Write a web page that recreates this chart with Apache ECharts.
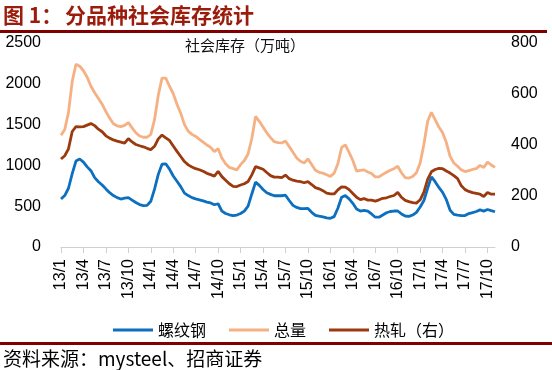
<!DOCTYPE html>
<html>
<head>
<meta charset="utf-8">
<script src="https://cdn.jsdelivr.net/npm/echarts/dist/echarts.min.js"></script>
<style>
html,body{margin:0;padding:0;background:#fff;}
#chart{width:552px;height:370px;}
</style>
</head>
<body>
<div id="chart"></div>
<script>
// Half-month points from 2013/1 to 2017/11; labels shown at quarter starts
const tickLabels = ['13/1','13/4','13/7','13/10','14/1','14/4','14/7','14/10','15/1','15/4','15/7','15/10','16/1','16/4','16/7','16/10','17/1','17/4','17/7','17/10'];
const rebar = [588,630,720,900,1053,1078,1040,982,935,850,800,760,712,665,630,605,588,598,605,575,
  545,520,508,510,560,710,890,1015,1020,955,870,805,740,660,630,605,590,578,565,550,
  540,518,530,440,410,395,384,392,410,440,500,650,795,755,705,665,645,628,628,628,
  635,570,510,485,470,470,472,425,388,378,370,358,352,372,475,610,630,590,535,465,
  441,450,440,405,365,365,392,420,435,441,441,405,380,375,392,425,490,570,720,860,
  800,730,670,580,450,400,390,384,385,410,422,435,455,440,460,445,432];
const total = [1370,1440,1650,2030,2240,2215,2160,2080,1970,1890,1820,1750,1660,1580,1510,1485,1475,1490,1525,1460,
  1400,1360,1345,1345,1380,1560,1860,2070,2070,1970,1880,1750,1640,1500,1420,1380,1355,1320,1285,1250,
  1220,1170,1205,1090,1020,975,960,945,1010,1060,1140,1330,1600,1540,1470,1400,1340,1290,1280,1275,
  1300,1230,1160,1090,1050,1030,1080,1010,940,915,905,885,865,905,1020,1220,1250,1160,1060,930,
  940,945,920,900,860,860,890,915,940,960,990,910,850,845,865,910,1030,1260,1540,1650,
  1560,1470,1400,1280,1110,1030,990,945,925,935,950,960,1000,975,1040,1005,975];
const hotRolled = [345,358,385,453,472,471,472,478,484,476,462,452,436,427,420,415,411,407,425,412,
  402,397,393,387,382,395,424,439,428,418,396,375,355,335,322,314,307,303,297,289,
  284,278,297,276,262,248,238,237,243,248,257,283,315,310,305,292,280,274,274,272,
  282,268,262,258,256,252,256,245,233,228,221,211,208,208,224,236,235,225,210,195,
  186,190,184,184,180,185,191,193,198,202,214,195,183,178,174,172,185,215,265,295,
  304,308,307,298,290,280,268,240,225,218,213,210,207,198,214,207,207];
const seriesNames = ['螺纹钢','总量','热轧（右）'];

const categories = [];
for (let i = 0; i < rebar.length; i++) {
  const q = Math.floor(i / 6);
  const base = (i % 6 === 0 && q < tickLabels.length) ? tickLabels[q] : ('p' + i);
  categories.push(base);
}
const isTick = (idx) => idx % 6 === 0;

const chart = echarts.init(document.getElementById('chart'), null, {renderer: 'canvas'});
const labelFont = {fontFamily: 'Liberation Sans', fontSize: 16, color: '#000'};
chart.setOption({
  animation: false,
  backgroundColor: '#fff',
  grid: {left: 61, right: 57, top: 43, bottom: 123, containLabel: false},
  legend: {
    data: seriesNames,
    left: 108, top: 317,
    icon: 'rect', itemWidth: 40, itemHeight: 3, itemGap: 23,
    textStyle: {fontFamily: 'Noto Sans CJK SC', fontSize: 16, color: '#000'}
  },
  xAxis: {
    type: 'category', data: categories, boundaryGap: false,
    axisLine: {lineStyle: {color: '#d0d0d0', width: 1}},
    axisTick: {show: true, interval: (i) => isTick(i), length: 6, lineStyle: {color: '#d0d0d0'}},
    axisLabel: Object.assign({rotate: 90, margin: 12, interval: (i) => isTick(i),
      formatter: (v) => v}, labelFont),
    splitLine: {show: false}
  },
  yAxis: [
    {type: 'value', min: 0, max: 2500, interval: 500,
     axisLine: {show: false}, axisTick: {show: false}, splitLine: {show: false},
     axisLabel: Object.assign({margin: 20, formatter: (v) => String(v)}, labelFont)},
    {type: 'value', min: 0, max: 800, interval: 200, position: 'right',
     axisLine: {show: false}, axisTick: {show: false}, splitLine: {show: false},
     axisLabel: Object.assign({margin: 16, formatter: (v) => String(v)}, labelFont)}
  ],
  series: [
    {name: seriesNames[0], type: 'line', data: rebar, yAxisIndex: 0, symbol: 'none',
     lineStyle: {color: '#0C6FBF', width: 2.8}, itemStyle: {color: '#0C6FBF'}},
    {name: seriesNames[1], type: 'line', data: total, yAxisIndex: 0, symbol: 'none',
     lineStyle: {color: '#F5B084', width: 2.8}, itemStyle: {color: '#F5B084'}},
    {name: seriesNames[2], type: 'line', data: hotRolled, yAxisIndex: 1, symbol: 'none',
     lineStyle: {color: '#9A3A0E', width: 2.8}, itemStyle: {color: '#9A3A0E'}}
  ],
  graphic: [
    {type: 'text', left: 3, top: 5, style: {text: '图 1：', font: 'bold 21px "Noto Sans CJK SC"', fill: '#9C1C0C'}},
    {type: 'text', left: 65, top: 5, style: {text: '分品种社会库存统计', font: 'bold 21px "Noto Sans CJK SC"', fill: '#9C1C0C'}},
    {type: 'rect', left: 0, top: 30, shape: {width: 547, height: 3}, style: {fill: '#800000'}},
    {type: 'text', left: 185, top: 38, style: {text: '社会库存（万吨）', font: '15px "Noto Sans CJK SC"', fill: '#111'}},
    {type: 'rect', left: 0, top: 342, shape: {width: 552, height: 3}, style: {fill: '#800000'}},
    {type: 'text', left: 3, top: 349, style: {text: '资料来源：mysteel、招商证券', font: '19px "Noto Sans CJK SC"', fill: '#000'}}
  ]
});
</script>
</body>
</html>
